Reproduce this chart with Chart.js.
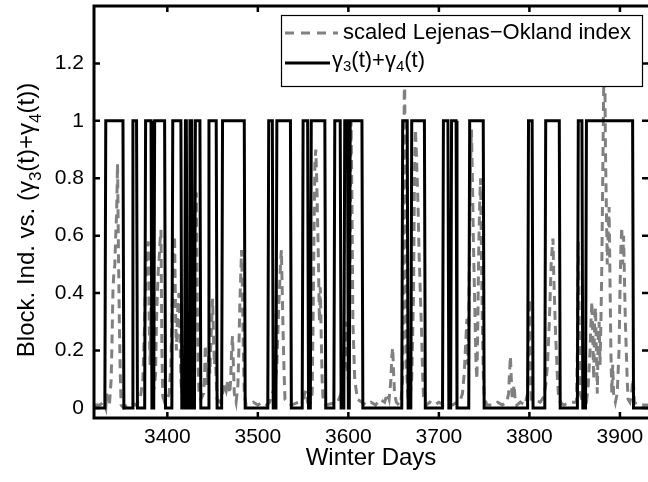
<!DOCTYPE html>
<html><head><meta charset="utf-8">
<script src="https://cdn.jsdelivr.net/npm/chart.js@4.4.1/dist/chart.umd.min.js"></script>
<style>html,body{margin:0;padding:0;background:#fff;overflow:hidden}canvas{display:block}</style>
</head><body>
<canvas id="c" width="648" height="482"></canvas>
<script>
// ---- data ----
const xMin = 3319, xMax = 3931, yMin = -0.035, yMax = 1.4;
const xTicks = [3400, 3500, 3600, 3700, 3800, 3900];
const xTickLabels = ['3400', '3500', '3600', '3700', '3800', '3900'];
const yTicks = [0, 0.2, 0.4, 0.6, 0.8, 1, 1.2];
const yTickLabels = ['0', '0.2', '0.4', '0.6', '0.8', '1', '1.2'];

// gamma3(t)+gamma4(t): days where the state equals 1 (first day, last day)
const blockStarts = [3332, 3362, 3376, 3386, 3406, 3420, 3425, 3431, 3446, 3461, 3512, 3521, 3550, 3559, 3585, 3596, 3602, 3660, 3670, 3705, 3714, 3734, 3799, 3818, 3854, 3863];
const blockEnds   = [3351, 3366, 3382, 3397, 3415, 3421, 3427, 3436, 3454, 3485, 3516, 3536, 3555, 3574, 3591, 3599, 3615, 3665, 3684, 3710, 3719, 3749, 3803, 3833, 3858, 3914];

// scaled Lejenas-Okland index
const loDays = [3319,3325,3330,3332,3333,3334,3336,3338,3339,3340,3341,3342,3343,3344,3345,3346,3347,3348,3349,3352,
3355,3360,3365,3370,3373,3375,3376,3377,3378,3379,3380,3381,3382,3383,3384,3386,3387,3388,3389,3390,3391,3392,3393,3394,3395,3397,3400,
3402,3404,3405,3406,3407,3408,3409,3410,3411,3412,3413,3414,3415,3416,3418,3419,3420,3421,3422,3424,
3426,3428,3429,3430,3431,3432,3433,3434,3435,3437,3440,
3441,3442,3443,3444,3445,3446,3447,3448,3449,3450,3451,3452,3453,3454,3455,
3458,3461,3463,3465,3467,3469,3470,3471,3472,3473,3474,3476,3478,3479,3480,3481,3482,3483,3484,3485,3487,
3490,3495,3500,3505,3510,
3513,3516,3519,3521,3522,3523,3524,3525,3526,3527,3528,3529,3530,3533,3537,
3545,3550,3553,3555,
3558,3560,3561,3562,3563,3564,3565,3566,3567,3568,3569,3570,3571,3572,3575,
3588,3592,3594,3596,3597,3598,3600,3601,3602,3603,3604,3605,3607,3610,3615,
3620,3625,3630,3635,3640,3643,3645,3647,3648,3649,3650,3651,3653,3656,
3658,3660,3661,3662,3663,3664,3666,
3668,3670,3672,3673,3674,3675,3676,3677,3678,3679,3680,3681,3682,3683,3686,
3690,3695,3700,3705,3710,3715,3720,3724,
3726,3728,3730,3731,3732,3733,3734,3735,3736,3737,3738,3739,3740,3741,3742,3743,3744,3745,3746,3747,3748,3749,3750,3753,
3760,3765,3770,3775,3777,3778,3779,3780,3781,3782,3783,3784,3786,3790,3795,
3798,3799,3800,3801,3802,
3812,3816,3818,3820,3822,3823,3824,3825,3826,3827,3828,3829,3830,3831,3832,3834,3838,
3845,3852,3853,3854,3855,3856,3859,
3863,3865,3867,3868,3869,3870,3871,3872,3873,3874,3875,3876,3877,3878,3879,3880,3881,3882,3883,3884,3885,3886,3887,3888,3889,3890,3891,3892,3893,3895,
3897,3899,3900,3901,3902,3903,3904,3905,3906,3907,3908,3909,3911,3913,3914,3915,3916,3920,3931];
const loValues = [0.01,0.01,0.02,0.0,0.05,0.02,0.01,0.1,0.25,0.42,0.47,0.5,0.6,0.68,0.85,0.55,0.3,0.12,0.01,0.0,
0.01,0.02,0.01,0.03,0.1,0.3,0.45,0.5,0.55,0.58,0.3,0.15,0.35,0.2,0.05,0.08,0.12,0.3,0.4,0.48,0.52,0.58,0.62,0.2,0.04,0.02,0.03,
0.05,0.15,0.3,0.45,0.55,0.6,0.35,0.2,0.3,0.38,0.4,0.25,0.1,0.05,0.12,0.2,0.22,0.1,0.05,0.04,
0.06,0.15,0.3,0.5,0.65,0.75,0.4,0.15,0.05,0.03,0.05,
0.1,0.22,0.12,0.08,0.15,0.18,0.12,0.22,0.3,0.38,0.25,0.15,0.2,0.1,0.03,
0.02,0.05,0.08,0.06,0.1,0.05,0.1,0.2,0.25,0.15,0.05,0.02,0.08,0.2,0.35,0.45,0.55,0.4,0.2,0.05,0.01,
0.01,0.02,0.01,0.02,0.01,
0.02,0.05,0.08,0.15,0.25,0.35,0.42,0.5,0.55,0.4,0.25,0.12,0.03,0.02,0.01,
0.02,0.03,0.06,0.02,
0.02,0.05,0.3,0.6,0.85,0.9,0.8,0.65,0.5,0.3,0.42,0.25,0.1,0.03,0.01,
0.02,0.05,0.1,0.2,0.3,0.15,0.1,0.3,0.6,1.0,0.7,0.3,0.1,0.03,0.02,
0.01,0.02,0.01,0.03,0.02,0.05,0.03,0.1,0.18,0.21,0.12,0.05,0.02,0.01,
0.02,0.1,0.5,1.3,0.6,0.15,0.03,
0.03,0.1,0.4,0.8,0.97,0.9,0.8,0.7,0.55,0.45,0.35,0.25,0.12,0.04,0.01,
0.02,0.01,0.02,0.01,0.02,0.01,0.02,0.03,
0.05,0.12,0.25,0.31,0.15,0.3,0.6,0.85,0.97,0.8,0.6,0.45,0.3,0.15,0.1,0.3,0.55,0.7,0.8,0.55,0.3,0.12,0.04,0.01,
0.01,0.02,0.01,0.02,0.05,0.12,0.18,0.1,0.03,0.05,0.08,0.04,0.01,0.02,0.01,
0.05,0.2,0.38,0.15,0.03,
0.02,0.04,0.08,0.15,0.3,0.4,0.5,0.55,0.59,0.45,0.35,0.25,0.18,0.1,0.05,0.02,0.01,
0.02,0.02,0.2,0.58,0.3,0.05,0.02,
0.02,0.08,0.2,0.3,0.37,0.25,0.1,0.3,0.35,0.2,0.05,0.25,0.3,0.15,0.3,0.5,0.8,1.1,1.3,0.9,0.7,0.5,0.6,0.7,0.45,0.2,0.05,0.15,0.05,0.02,
0.05,0.2,0.4,0.55,0.63,0.5,0.6,0.45,0.3,0.2,0.1,0.03,0.02,0.05,0.1,0.08,0.02,0.01,0.01];

const legendLabels = ['scaled Lejenas\u2212Okland index', 'gamma'];

// ---- build datasets from the arrays ----
const blockPts = [{x: xMin, y: 0}];
blockStarts.forEach((s, i) => {
  const e = blockEnds[i];
  blockPts.push({x: s - 1, y: 0}, {x: s, y: 1}, {x: e, y: 1}, {x: e + 1, y: 0});
});
blockPts.push({x: xMax, y: 0});
const loPts = loDays.map((d, i) => ({x: d, y: loValues[i]}));

const FONT = "'Liberation Sans', Arial, Helvetica, sans-serif";

function richWidth(ctx, parts, size) {
  let w = 0;
  parts.forEach(p => {
    ctx.font = (p.sub ? Math.round(size * 0.7) : size) + 'px ' + FONT;
    w += ctx.measureText(p.t).width;
  });
  return w;
}
function drawRich(ctx, parts, x, y, size) {
  let cx = x;
  parts.forEach(p => {
    const s = p.sub ? Math.round(size * 0.7) : size;
    ctx.font = s + 'px ' + FONT;
    ctx.fillText(p.t, cx, y + (p.sub ? size * 0.28 : 0));
    cx += ctx.measureText(p.t).width;
  });
}
const gammaParts = [{t: '\u03B3'}, {t: '3', sub: true}, {t: '(t)+\u03B3'}, {t: '4', sub: true}, {t: '(t)'}];
const yTitleParts = [{t: 'Block. Ind. vs. (\u03B3'}, {t: '3', sub: true}, {t: '(t)+\u03B3'}, {t: '4', sub: true}, {t: '(t))'}];

const framePlugin = {
  id: 'frame',
  afterDatasetsDraw(chart) {
    const {ctx, chartArea: {left, right, top, bottom}, scales: {x, y}} = chart;
    const edge = Math.min(right, chart.width + 2);
    ctx.save();
    ctx.strokeStyle = '#000';
    ctx.lineWidth = 3;
    ctx.beginPath();
    ctx.moveTo(edge + 2, top); ctx.lineTo(left, top); ctx.lineTo(left, bottom); ctx.lineTo(edge + 2, bottom);
    ctx.stroke();
    ctx.lineWidth = 2.5;
    const tl = 6;
    ctx.beginPath();
    xTicks.forEach(v => {
      const px = x.getPixelForValue(v);
      ctx.moveTo(px, bottom); ctx.lineTo(px, bottom - tl);
      ctx.moveTo(px, top); ctx.lineTo(px, top + tl);
    });
    yTicks.forEach(v => {
      const py = y.getPixelForValue(v);
      ctx.moveTo(left, py); ctx.lineTo(left + tl, py);
      ctx.moveTo(edge, py); ctx.lineTo(edge - tl, py);
    });
    ctx.stroke();

    // legend box
    const bx = 281, by = 15, bw = 361, bh = 71;
    ctx.fillStyle = '#fff';
    ctx.fillRect(bx, by, bw, bh);
    ctx.lineWidth = 1.2;
    ctx.strokeRect(bx + 0.5, by + 0.5, bw, bh);
    ctx.lineWidth = 3;
    ctx.strokeStyle = '#808080';
    ctx.setLineDash([9, 7]);
    ctx.beginPath(); ctx.moveTo(285, 33); ctx.lineTo(338, 33); ctx.stroke();
    ctx.setLineDash([]);
    ctx.strokeStyle = '#000';
    ctx.beginPath(); ctx.moveTo(285, 63); ctx.lineTo(330, 63); ctx.stroke();
    ctx.fillStyle = '#000';
    ctx.textBaseline = 'middle';
    ctx.textAlign = 'left';
    ctx.font = '22px ' + FONT;
    ctx.fillText(legendLabels[0], 343, 33);
    drawRich(ctx, gammaParts, 332, 61, 22);
    ctx.restore();
  },
  afterDraw(chart) {
    const {ctx, chartArea: {top, bottom}} = chart;
    ctx.save();
    ctx.fillStyle = '#000';
    ctx.textBaseline = 'alphabetic';
    ctx.textAlign = 'left';
    const size = 24;
    const w = richWidth(ctx, yTitleParts, size);
    ctx.translate(34, (top + bottom) / 2 + 8);
    ctx.rotate(-Math.PI / 2);
    drawRich(ctx, yTitleParts, -w / 2, 0, size);
    ctx.restore();
  }
};

new Chart(document.getElementById('c'), {
  type: 'line',
  data: {
    datasets: [
      {label: legendLabels[0], data: loPts, borderColor: '#808080', borderWidth: 3, borderDash: [9, 6],
       pointRadius: 0, tension: 0, fill: false, order: 2},
      {label: legendLabels[1], data: blockPts, borderColor: '#000', borderWidth: 3,
       pointRadius: 0, tension: 0, fill: false, order: 1}
    ]
  },
  options: {
    responsive: false,
    devicePixelRatio: 1,
    animation: false,
    layout: {padding: {left: 0, right: 0, top: 6, bottom: 0}},
    plugins: {legend: {display: false}, tooltip: {enabled: false}},
    scales: {
      x: {
        type: 'linear', min: xMin, max: xMax,
        grid: {display: false, drawTicks: false},
        border: {display: false},
        afterBuildTicks: s => { s.ticks = xTicks.map(v => ({value: v})); },
        afterFit: s => { s.height = 64; s.paddingLeft = 0; s.paddingRight = 0; },
        ticks: {color: '#000', font: {family: FONT, size: 21}, padding: 7, maxRotation: 0, autoSkip: false,
          callback: (v, i) => xTickLabels[i]},
        title: {display: true, text: 'Winter Days', color: '#000', font: {family: FONT, size: 24}, padding: {top: 0, bottom: 9}}
      },
      y: {
        min: yMin, max: yMax,
        grid: {display: false, drawTicks: false},
        border: {display: false},
        afterBuildTicks: s => { s.ticks = yTicks.map(v => ({value: v})); },
        afterFit: s => { s.width = 94; s.paddingTop = 0; s.paddingBottom = 0; },
        ticks: {color: '#000', font: {family: FONT, size: 21}, padding: 10,
          callback: (v, i) => yTickLabels[i]}
      }
    }
  },
  plugins: [framePlugin]
});
</script>
</body></html>
